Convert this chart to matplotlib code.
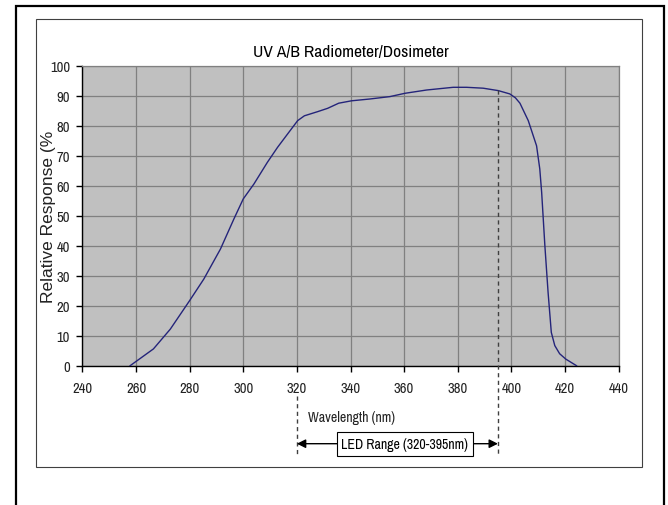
import matplotlib
matplotlib.use("Agg")
import matplotlib.pyplot as plt
from matplotlib import font_manager
from matplotlib.patches import Rectangle

# wavelength (nm) vs relative response (%)
WL = [257.8, 262, 266.5, 272.8, 280, 285.3, 291.5, 296.5, 300, 304, 309,
      312.8, 316.5, 320.3, 322.8, 327.8, 331.5, 335.6, 340.4, 347.2, 354.7,
      360.3, 368.4, 378.3, 383.3, 389.5, 395.1, 399.4, 401.5, 403.2, 406.3,
      409.4, 410.6, 411.3, 412.5, 413.7, 414.9, 416.2, 418, 420.3, 424.3]
RESP = [0, 2.7, 5.6, 12.2, 21.7, 28.9, 38.9, 48.9, 55.6, 60.6, 67.8,
        72.8, 77.2, 81.7, 83.3, 84.7, 85.8, 87.5, 88.3, 88.9, 89.7,
        90.8, 91.9, 92.8, 92.8, 92.5, 91.7, 90.6, 89.3, 87.5, 81.7,
        73.3, 65.6, 57.8, 40, 24.4, 11.1, 6.7, 4.0, 2.2, 0]

XTICKS = list(range(240, 441, 20))
YTICKS = list(range(0, 101, 10))
LED_LO, LED_HI = 320, 395

installed = {f.name for f in font_manager.fontManager.ttflist}
cands = ["Liberation Sans Narrow", "Arial Narrow", "Archivo Narrow", "PT Sans Narrow",
         "Roboto Condensed", "Fira Sans Condensed", "Encode Sans Condensed",
         "IBM Plex Sans Condensed", "Open Sans Condensed", "Liberation Sans", "DejaVu Sans"]
NARROW = [c for c in cands if c in installed] or ["DejaVu Sans"]
W, H = 668, 506

fig = plt.figure(figsize=(W / 100, H / 100), dpi=100)
fig.patch.set_facecolor("white")

# outer border and chart frame (pixel coords)
def px_rect(x0, y0, x1, y1, **kw):
    fig.patches.append(Rectangle((x0 / W, 1 - y1 / H), (x1 - x0) / W, (y1 - y0) / H,
                                 transform=fig.transFigure, fill=False, **kw))

px_rect(16, 7, 664, 520, edgecolor="black", linewidth=1.6)
px_rect(36, 20, 642, 468, edgecolor="#404040", linewidth=0.8)

ax = fig.add_axes([82.4 / W, 1 - 366.7 / H, 536.2 / W, 300 / H])
ax.set_facecolor("#c0c0c0")
ax.plot(WL, RESP, color="#24247a", linewidth=1.0, zorder=3)

ax.set_xlim(240, 440)
ax.set_ylim(0, 100)
ax.set_xticks(XTICKS)
ax.set_yticks(YTICKS)
ax.grid(True, color="#808080", linewidth=0.9)
ax.set_axisbelow(True)
for s in ["top", "right"]:
    ax.spines[s].set_color("#808080")
    ax.spines[s].set_linewidth(0.9)
for s in ["left", "bottom"]:
    ax.spines[s].set_color("black")
    ax.spines[s].set_linewidth(1.0)
ax.tick_params(direction="out", length=4, width=1, pad=5, labelsize=10.5,
               labelcolor="#222222")
ax.tick_params(axis="x", pad=7)
for lab in ax.get_xticklabels() + ax.get_yticklabels():
    lab.set_family(NARROW)

ax.set_title("UV A/B Radiometer/Dosimeter", family=NARROW, fontsize=12.5, pad=7)
ax.set_xlabel("Wavelength (nm)", family=NARROW, fontsize=10, color="#222222")
ax.xaxis.set_label_coords(0.501, -0.148)
ax.set_ylabel("Relative Response (%", family=["Liberation Sans", "DejaVu Sans"],
              fontsize=12.5, color="#222222")
ax.yaxis.set_label_coords(-0.049, 0.5)

# LED range markers
ax.plot([LED_HI, LED_HI], [92, -30], color="#404040", linestyle=(0, (3, 2.5)),
        linewidth=1.0, clip_on=False, zorder=4)
ax.plot([LED_LO, LED_LO], [-10, -30], color="#404040", linestyle=(0, (3, 2.5)),
        linewidth=1.0, clip_on=False, zorder=4)
ax.annotate("", xy=(LED_LO, -26), xytext=(LED_HI, -26),
            arrowprops=dict(arrowstyle="<|-|>", color="black", lw=1.0,
                            mutation_scale=13, shrinkA=0, shrinkB=0),
            annotation_clip=False, zorder=4)
ax.text(360.3, -26, "LED Range (320-395nm)", family=NARROW, fontsize=10,
        ha="center", va="center", zorder=5,
        bbox=dict(boxstyle="square,pad=0.35", facecolor="white", edgecolor="black",
                  linewidth=0.8))

fig.savefig("out.png", dpi=100)
